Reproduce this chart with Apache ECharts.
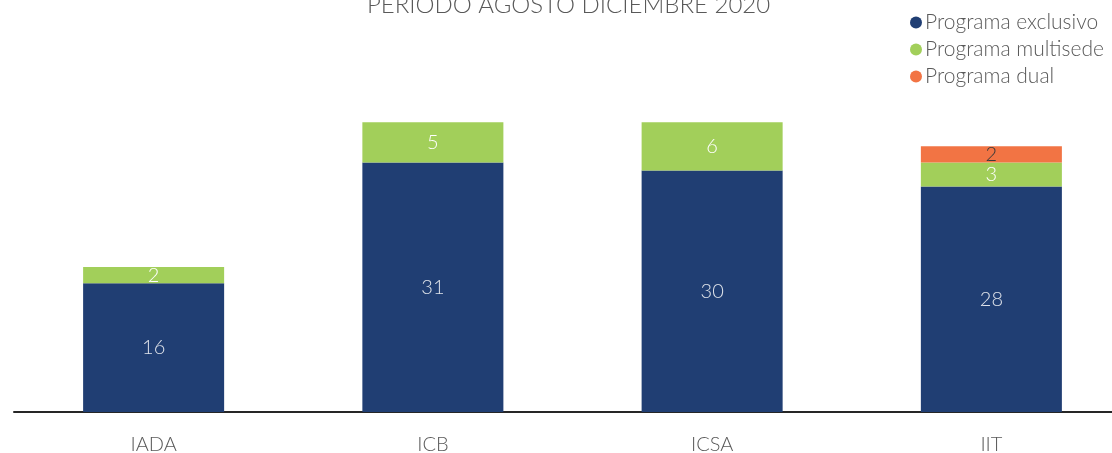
<!DOCTYPE html>
<html>
<head>
<meta charset="utf-8">
<script src="https://cdn.jsdelivr.net/npm/echarts@6/dist/echarts.min.js"></script>
<style>
  html, body { margin: 0; padding: 0; background: #fff; }
  #main { width: 1112px; height: 453px; }
</style>
</head>
<body>
<div id="main"></div>
<script>
var categories = ['IADA', 'ICB', 'ICSA', 'IIT'];
var exclusivo = [16, 31, 30, 28];
var multisede = [2, 5, 6, 3];
var dual = [null, null, null, 2];

var myChart = echarts.init(document.getElementById('main'));

var labelStyle = function (color) {
    return {
        show: true,
        position: 'inside',
        color: color,
        fontFamily: 'Lato',
        fontWeight: 300,
        fontSize: 20
    };
};

var option = {
    animation: false,
    textStyle: { fontFamily: 'Lato' },
    title: {
        text: 'PERIODO AGOSTO DICIEMBRE 2020',
        left: 362,
        top: -12,
        textStyle: {
            color: '#595959',
            fontFamily: 'Lato',
            fontWeight: 300,
            fontSize: 24
        }
    },
    legend: {
        orient: 'vertical',
        left: 905,
        top: 7,
        itemGap: 6,
        itemWidth: 12,
        itemHeight: 12,
        icon: 'circle',
        textStyle: { color: '#595959', fontFamily: 'Lato', fontWeight: 300, fontSize: 21, padding: [0, 0, 0, -2] },
        data: ['Programa exclusivo', 'Programa multisede', 'Programa dual']
    },
    grid: {
        left: 14,
        width: 1117,
        top: 90,
        bottom: 41,
        outerBoundsMode: 'none'
    },
    xAxis: {
        type: 'category',
        data: categories,
        axisLine: { lineStyle: { color: '#262626', width: 2 } },
        axisTick: { show: false },
        axisLabel: { color: '#595959', fontFamily: 'Lato', fontWeight: 300, fontSize: 20, margin: 23 }
    },
    yAxis: {
        type: 'value',
        min: 0,
        max: 40,
        show: false,
        splitLine: { show: false }
    },
    series: [
        {
            name: 'Programa exclusivo',
            type: 'bar',
            stack: 'total',
            barWidth: '50.5%',
            itemStyle: { color: '#203e73' },
            label: labelStyle('#dfe3ea'),
            data: exclusivo
        },
        {
            name: 'Programa multisede',
            type: 'bar',
            stack: 'total',
            itemStyle: { color: '#a2cf5a' },
            label: labelStyle('#ffffff'),
            data: multisede
        },
        {
            name: 'Programa dual',
            type: 'bar',
            stack: 'total',
            itemStyle: { color: '#f27444' },
            label: labelStyle('#3a3a3a'),
            data: dual
        }
    ]
};

myChart.setOption(option);
</script>
</body>
</html>
